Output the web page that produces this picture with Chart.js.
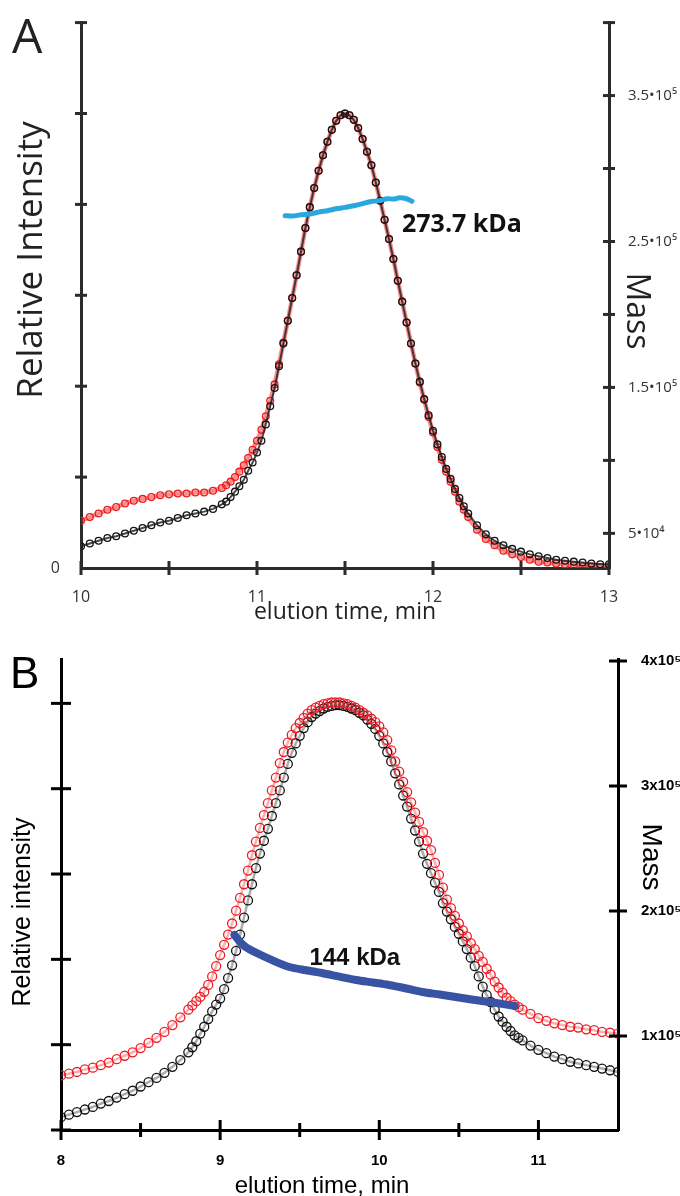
<!DOCTYPE html>
<html lang="en">
<head>
<meta charset="UTF-8">
<title>Elution profiles</title>
<script src="https://cdn.jsdelivr.net/npm/chart.js@4.4.1/dist/chart.umd.min.js"></script>
<style>
  body { margin: 0; background: #fff; }
  #wrap { position: relative; width: 680px; height: 1196px; }
  canvas { position: absolute; left: 0; }
  #cA { top: 0; }
  #cB { top: 620px; }
</style>
</head>
<body>
<div id="wrap">
  <canvas id="cA" width="680" height="640"></canvas>
  <canvas id="cB" width="680" height="576"></canvas>
</div>
<script>
// ---- panel A ----
const timeA = [10.00,10.05,10.10,10.15,10.20,10.25,10.30,10.35,10.40,10.45,10.50,10.55,10.60,10.65,10.70,10.75,10.80,
  10.825,10.85,10.875,10.90,10.925,10.95,10.975,11.00,11.025,11.05,11.075,11.10,11.125,11.15,11.175,11.20,11.225,11.25,
  11.275,11.30,11.325,11.35,11.375,11.40,11.425,11.45,11.475,11.50,11.525,11.55,11.575,11.60,11.625,11.65,11.675,11.70,
  11.725,11.75,11.775,11.80,11.825,11.85,11.875,11.90,11.925,11.95,11.975,12.00,12.025,12.05,12.075,12.10,12.125,12.15,
  12.175,12.20,
  12.25,12.30,12.35,12.40,12.45,12.50,12.55,12.60,12.65,12.70,12.75,12.80,12.85,12.90,12.95,13.00];
const blackA = [0.24,0.27,0.30,0.33,0.35,0.38,0.41,0.44,0.47,0.50,0.52,0.55,0.58,0.60,0.62,0.65,0.70,
  0.73,0.78,0.84,0.90,0.97,1.07,1.16,1.27,1.40,1.58,1.78,1.98,2.22,2.47,2.72,2.97,3.22,3.48,3.74,3.97,4.18,4.37,4.54,
  4.69,4.82,4.92,4.98,5.00,4.98,4.93,4.84,4.72,4.58,4.43,4.24,4.04,3.83,3.62,3.40,3.16,2.93,2.70,2.47,2.25,2.05,1.86,
  1.68,1.51,1.36,1.22,1.09,0.98,0.87,0.77,0.68,0.60,
  0.47,0.37,0.30,0.25,0.21,0.18,0.15,0.13,0.11,0.09,0.08,0.07,0.06,0.05,0.04,0.04];
const redA = [0.52,0.56,0.60,0.64,0.67,0.71,0.74,0.76,0.78,0.80,0.81,0.82,0.82,0.83,0.83,0.85,0.88,
  0.91,0.95,1.00,1.06,1.13,1.21,1.30,1.40,1.52,1.67,1.84,2.02,2.24,2.48,2.72,2.97,3.22,3.48,3.74,3.97,4.18,4.37,4.54,
  4.69,4.82,4.92,4.98,5.00,4.98,4.93,4.84,4.72,4.58,4.43,4.24,4.04,3.83,3.62,3.40,3.16,2.93,2.70,2.47,2.25,2.04,1.85,
  1.66,1.49,1.33,1.19,1.06,0.95,0.84,0.73,0.64,0.56,
  0.42,0.32,0.25,0.19,0.15,0.12,0.09,0.07,0.06,0.05,0.04,0.03,0.02,0.02,0.01,0.01];
const massTimeA = [11.16,11.20,11.25,11.30,11.36,11.40,11.45,11.50,11.55,11.60,11.64,11.70,11.74,11.78,11.81,11.85,11.88];
const massA = [267700,267400,268300,268900,270400,271100,272400,273400,274500,275900,277200,278100,279300,279100,279900,279300,277600];
const timeTicksA = [10, 10.5, 11, 11.5, 12, 12.5, 13];
const intTicksA = [0, 1, 2, 3, 4, 5, 6];
const massTicksA = [50000, 100000, 150000, 200000, 250000, 300000, 350000, 400000];
const massLabelsA = ['5•10⁴', '', '1.5•10⁵', '', '2.5•10⁵', '', '3.5•10⁵', ''];

// ---- panel B ----
const timeB = [8.00,8.05,8.10,8.15,8.20,8.25,8.30,8.35,8.40,8.45,8.50,8.55,8.60,8.65,8.70,8.75,8.80,
  8.825,8.85,8.875,8.90,8.925,8.95,8.975,9.00,9.025,9.05,9.075,9.10,9.125,9.15,9.175,9.20,9.225,9.25,9.275,9.30,
  9.325,9.35,9.375,9.40,9.425,9.45,9.475,9.50,9.525,9.55,9.575,9.60,9.625,9.65,9.675,9.70,9.725,9.75,9.775,9.80,
  9.825,9.85,9.875,9.90,9.925,9.95,9.975,10.00,10.025,10.05,10.075,10.10,10.125,10.15,10.175,10.20,10.225,10.25,
  10.275,10.30,10.325,10.35,10.375,10.40,10.425,10.45,10.475,10.50,10.525,10.55,10.575,10.60,10.625,10.65,10.675,
  10.70,10.725,10.75,10.775,10.80,10.825,10.85,10.875,10.90,
  10.95,11.00,11.05,11.10,11.15,11.20,11.25,11.30,11.35,11.40,11.45,11.50];
const blackB = [0.15,0.18,0.21,0.24,0.27,0.31,0.34,0.38,0.42,0.46,0.51,0.56,0.61,0.67,0.74,0.82,0.91,
  0.97,1.04,1.13,1.21,1.30,1.39,1.47,1.54,1.65,1.78,
  1.93,2.10,2.29,2.49,2.69,2.88,3.07,3.24,3.39,3.53,
  3.68,3.83,3.98,4.13,4.29,4.42,4.53,4.62,4.71,4.78,
  4.84,4.88,4.91,4.94,4.96,4.97,4.98,4.98,4.97,4.96,
  4.94,4.92,4.89,4.86,4.81,4.76,4.70,4.62,4.53,4.43,
  4.32,4.18,4.05,3.92,3.79,3.65,3.51,3.38,3.24,3.12,
  3.01,2.90,2.79,2.66,2.56,2.47,2.38,2.30,2.21,2.12,
  2.02,1.92,1.80,1.68,1.58,1.50,1.41,1.33,1.27,1.21,
  1.16,1.11,1.08,1.05,
  0.99,0.94,0.90,0.86,0.83,0.80,0.78,0.76,0.74,0.72,0.70,0.68];
const redB = [0.64,0.66,0.68,0.71,0.73,0.76,0.79,0.83,0.87,0.91,0.96,1.02,1.08,1.15,1.23,1.32,1.41,
  1.46,1.51,1.56,1.62,1.70,1.80,1.92,2.05,2.17,2.29,
  2.42,2.57,2.72,2.88,3.04,3.22,3.38,3.54,3.69,3.83,
  3.98,4.13,4.30,4.43,4.54,4.63,4.71,4.77,4.83,4.88,
  4.92,4.95,4.97,4.99,5.00,5.01,5.01,5.01,5.00,4.99,
  4.97,4.95,4.92,4.89,4.86,4.82,4.78,4.73,4.66,4.57,
  4.45,4.32,4.20,4.08,3.96,3.84,3.72,3.61,3.49,3.39,
  3.28,3.13,2.99,2.84,2.70,2.60,2.51,2.42,2.34,2.27,
  2.19,2.12,2.04,1.97,1.89,1.82,1.74,1.67,1.61,1.55,
  1.51,1.47,1.44,1.41,
  1.36,1.31,1.28,1.25,1.23,1.21,1.20,1.18,1.17,1.15,1.14,1.13];
const massTimeB = [9.09,9.12,9.16,9.23,9.33,9.435,9.54,9.64,9.75,9.855,9.96,10.06,10.17,10.27,10.38,10.48,10.58,10.69,10.78,10.85];
const massB = [180800,176000,171200,166400,160500,155200,152600,150400,147500,144800,142800,140800,138000,135200,133200,131200,129200,127200,125500,124000];
const timeTicksB = [8, 8.5, 9, 9.5, 10, 10.5, 11];
const intTicksB = [0, 1, 2, 3, 4, 5];
const massTicksB = [100000, 200000, 300000, 400000];
const massLabelsB = ['1x10⁵', '2x10⁵', '3x10⁵', '4x10⁵'];

const pts = (xs, ys) => xs.map((x, i) => ({ x: x, y: ys[i] }));
const setTicks = arr => (s => { s.ticks = arr.map(v => ({ value: v })); });

// cross ticks, axis titles and the mass note
function decor(st) {
  return {
    id: 'decor',
    afterDraw(chart) {
      const ctx = chart.ctx, a = chart.chartArea;
      ctx.save();
      ctx.strokeStyle = st.axis;
      ctx.lineWidth = 3;
      st.marks.forEach(m => {
        const s = chart.scales[m.scale];
        s.ticks.forEach(t => {
          if (m.skip && m.skip.includes(t.value)) return;
          const p = s.getPixelForValue(t.value), n = m.len(t.value);
          ctx.beginPath();
          if (s.isHorizontal()) {
            ctx.moveTo(p, a.bottom - n); ctx.lineTo(p, a.bottom + n);
          } else {
            const x0 = s.position === 'left' ? a.left : a.right;
            ctx.moveTo(x0 - n, p); ctx.lineTo(x0 + n, p);
          }
          ctx.stroke();
        });
      });
      ctx.fillStyle = st.text;
      ctx.textBaseline = 'alphabetic';
      st.texts.forEach(tx => {
        ctx.save();
        ctx.font = tx.font;
        ctx.textAlign = tx.align || 'center';
        ctx.translate(tx.x, tx.y);
        if (tx.rot) ctx.rotate(tx.rot * Math.PI / 180);
        ctx.fillText(tx.s, 0, 0);
        ctx.restore();
      });
      const nt = st.note;
      ctx.font = nt.font;
      ctx.textAlign = 'left';
      ctx.fillStyle = '#111';
      ctx.fillText(nt.s, chart.scales.x.getPixelForValue(nt.t), chart.scales.yM.getPixelForValue(nt.m));
      ctx.restore();
    }
  };
}

const styleA = {
  axis: '#2b2b2b', text: '#222',
  marks: [
    { scale: 'x', len: v => 7 },
    { scale: 'y', len: v => 6, skip: [0] },
    { scale: 'yM', len: v => 6 }
  ],
  texts: [
    { s: 'A', x: 12, y: 53, font: '48px "Open Sans"', align: 'left' },
    { s: 'Relative Intensity', x: 42, y: 260, font: '35px "Open Sans"', rot: -90 },
    { s: 'Mass', x: 627, y: 311, font: '32px "Open Sans"', rot: 90 },
    { s: 'elution time, min', x: 345, y: 619, font: '23px "Open Sans"' }
  ],
  note: { s: '273.7 kDa', t: 11.824, m: 256800, font: 'bold 25px "Open Sans"' }
};

const styleB = {
  axis: '#000', text: '#000',
  marks: [
    { scale: 'x', len: v => Number.isInteger(v) ? 10 : 7 },
    { scale: 'y', len: v => 10 },
    { scale: 'yM', len: v => 9 }
  ],
  texts: [
    { s: 'B', x: 10, y: 68, font: '44px Arial, "Liberation Sans"', align: 'left' },
    { s: 'Relative intensity', x: 30, y: 292, font: '25px Arial, "Liberation Sans"', rot: -90 },
    { s: 'Mass', x: 643, y: 237, font: '28px Arial, "Liberation Sans"', rot: 90 },
    { s: 'elution time, min', x: 322, y: 573, font: '24px Arial, "Liberation Sans"' }
  ],
  note: { s: '144 kDa', t: 9.561, m: 156800, font: 'bold 24px Arial, "Liberation Sans"' }
};

// open circles joined by a band of the same colour
function circles(data, color, band, bandW, r, order) {
  return {
    data: data, yAxisID: 'y', order: order, showLine: true,
    borderColor: band, borderWidth: bandW, borderJoinStyle: 'round',
    pointRadius: r, pointBorderWidth: 1.3, pointBorderColor: color,
    pointBackgroundColor: 'rgba(0,0,0,0)'
  };
}

function massLine(data, color, w) {
  return {
    data: data, yAxisID: 'yM', order: 0, showLine: true,
    borderColor: color, borderWidth: w, pointRadius: 0, tension: 0.3,
    borderCapStyle: 'round', borderJoinStyle: 'round'
  };
}

function axisOpts(color, extra) {
  return Object.assign({
    type: 'linear',
    grid: { display: false },
    border: { display: true, color: color, width: 3 }
  }, extra);
}

const fontA = { family: '"Open Sans"', size: 16 };
const fontB = { family: 'Arial, "Liberation Sans"', size: 15, weight: 'bold' };

const chartA = new Chart(document.getElementById('cA'), {
  type: 'scatter',
  data: {
    datasets: [
      massLine(pts(massTimeA, massA), '#2aa7df', 5),
      circles(pts(timeA, blackA), '#151515', 'rgba(30,30,30,0.8)', 2, 3.4, 1),
      circles(pts(timeA, redA), '#ee1c1c', 'rgba(238,28,28,0.5)', 4.5, 3.4, 2)
    ]
  },
  options: {
    responsive: false, animation: false, events: [],
    layout: { padding: { top: 17, left: 0, right: 0, bottom: 0 } },
    plugins: { legend: { display: false }, tooltip: { enabled: false } },
    scales: {
      x: axisOpts(styleA.axis, {
        position: 'bottom', min: 10, max: 13,
        afterBuildTicks: setTicks(timeTicksA),
        afterFit: s => { s.height = 72; },
        ticks: { padding: 12, color: '#333', font: fontA, autoSkip: false, maxRotation: 0,
          callback: v => Number.isInteger(v) ? String(v) : '' }
      }),
      y: axisOpts(styleA.axis, {
        position: 'left', min: 0, max: 6,
        afterBuildTicks: setTicks(intTicksA),
        afterFit: s => { s.width = 81; },
        ticks: { padding: 13, color: '#333', font: fontA, autoSkip: false,
          callback: v => v === 0 ? '0' : '' }
      }),
      yM: axisOpts(styleA.axis, {
        position: 'right', min: 26250, max: 400000,
        afterBuildTicks: setTicks(massTicksA),
        afterFit: s => { s.width = 71; },
        ticks: { padding: 11, color: '#333', font: { family: '"Open Sans"', size: 15 }, autoSkip: false,
          callback: (v, i) => massLabelsA[i] }
      })
    }
  },
  plugins: [decor(styleA)]
});

const chartB = new Chart(document.getElementById('cB'), {
  type: 'scatter',
  data: {
    datasets: [
      massLine(pts(massTimeB, massB), '#3953a4', 8),
      circles(pts(timeB, redB), '#ee1c24', 'rgba(238,28,36,0.35)', 2.5, 4.5, 1),
      circles(pts(timeB, blackB), '#111', 'rgba(17,17,17,0.35)', 2.5, 4.5, 2)
    ]
  },
  options: {
    responsive: false, animation: false, events: [],
    layout: { padding: { top: 39, left: 0, right: 0, bottom: 0 } },
    plugins: { legend: { display: false }, tooltip: { enabled: false } },
    scales: {
      x: axisOpts(styleB.axis, {
        position: 'bottom', min: 8, max: 11.5,
        afterBuildTicks: setTicks(timeTicksB),
        afterFit: s => { s.height = 66; },
        ticks: { padding: 14, color: '#000', font: fontB, autoSkip: false, maxRotation: 0,
          callback: v => Number.isInteger(v) ? String(v) : '' }
      }),
      y: axisOpts(styleB.axis, {
        position: 'left', min: 0, max: 5.52,
        afterBuildTicks: setTicks(intTicksB),
        afterFit: s => { s.width = 61; },
        ticks: { display: false }
      }),
      yM: axisOpts(styleB.axis, {
        position: 'right', min: 24800, max: 401600,
        afterBuildTicks: setTicks(massTicksB),
        afterFit: s => { s.width = 62; },
        ticks: { padding: 15, color: '#000', font: fontB, autoSkip: false,
          callback: (v, i) => massLabelsB[i] }
      })
    }
  },
  plugins: [decor(styleB)]
});
</script>
</body>
</html>
